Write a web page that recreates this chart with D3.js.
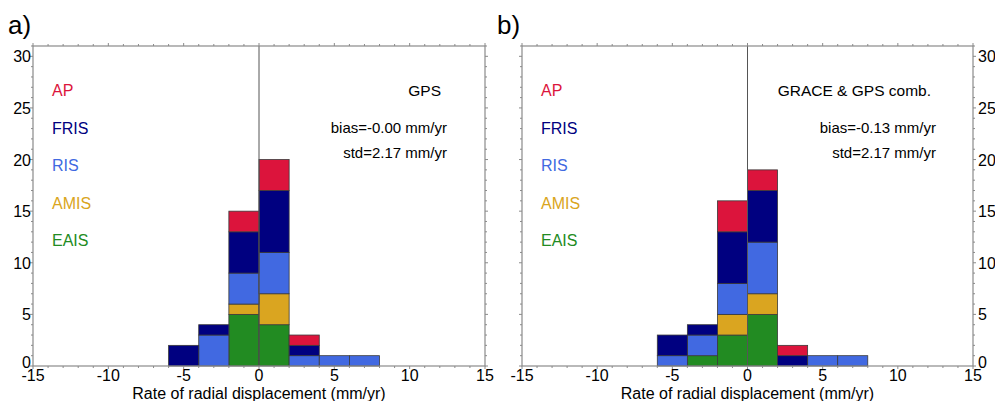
<!DOCTYPE html>
<html>
<head>
<meta charset="utf-8">
<script src="https://cdn.jsdelivr.net/npm/d3@7"></script>
<style>
  body { margin: 0; background: #fff; }
  svg { font-family: 'Liberation Sans', Arial, sans-serif; }
</style>
</head>
<body>
<svg id="chart" width="995" height="401"></svg>
<script>
// bins of width 2 mm/yr
const binEdges = [-6, -4, -2, 0, 2, 4, 6, 8];
const regions = ['EAIS', 'AMIS', 'RIS', 'FRIS', 'AP']; // stacking order, bottom to top
const legendOrder = ['AP', 'FRIS', 'RIS', 'AMIS', 'EAIS'];
const regionColors = {
  AP: '#dc143c',
  FRIS: '#000080',
  RIS: '#4169e1',
  AMIS: '#daa520',
  EAIS: '#228b22'
};

// counts per bin, panel a (GPS)
const gpsEAIS = [0, 0, 5, 4, 0, 0, 0];
const gpsAMIS = [0, 0, 1, 3, 0, 0, 0];
const gpsRIS = [0, 3, 3, 4, 1, 1, 1];
const gpsFRIS = [2, 1, 4, 6, 1, 0, 0];
const gpsAP = [0, 0, 2, 3, 1, 0, 0];

// counts per bin, panel b (GRACE & GPS comb.)
const combEAIS = [0, 1, 3, 5, 0, 0, 0];
const combAMIS = [0, 0, 2, 2, 0, 0, 0];
const combRIS = [1, 2, 3, 5, 0, 1, 1];
const combFRIS = [2, 1, 5, 5, 1, 0, 0];
const combAP = [0, 0, 3, 2, 1, 0, 0];

const xTicks = [-15, -10, -5, 0, 5, 10, 15];
const yTicks = [0, 5, 10, 15, 20, 25, 30];

const panels = [
  {
    label: 'a)', left: 33, right: 485, yLabels: 'left',
    title: 'GPS', bias: 'bias=-0.00 mm/yr', std: 'std=2.17 mm/yr',
    titleX: 441, statX: 447,
    counts: { EAIS: gpsEAIS, AMIS: gpsAMIS, RIS: gpsRIS, FRIS: gpsFRIS, AP: gpsAP }
  },
  {
    label: 'b)', left: 522, right: 973, yLabels: 'right',
    title: 'GRACE & GPS comb.', bias: 'bias=-0.13 mm/yr', std: 'std=2.17 mm/yr',
    titleX: 931, statX: 936,
    counts: { EAIS: combEAIS, AMIS: combAMIS, RIS: combRIS, FRIS: combFRIS, AP: combAP }
  }
];

const plotTop = 46;
const plotBottom = 366;
const svg = d3.select('#chart');
const axisColor = '#8a8a8a';

panels.forEach(p => {
  const x = d3.scaleLinear().domain([-15, 15]).range([p.left, p.right]);
  const y = d3.scaleLinear().domain([0, 31]).range([plotBottom, plotTop]);
  const g = svg.append('g');

  const rows = binEdges.slice(0, -1).map((e, i) => {
    const row = { x0: e, x1: binEdges[i + 1] };
    regions.forEach(r => { row[r] = p.counts[r][i]; });
    return row;
  });
  const series = d3.stack().keys(regions)(rows);

  g.selectAll('.layer')
    .data(series)
    .join('g')
    .attr('fill', d => regionColors[d.key])
    .selectAll('rect')
    .data(d => d.filter(v => v[1] > v[0]))
    .join('rect')
    .attr('x', d => x(d.data.x0))
    .attr('width', d => x(d.data.x1) - x(d.data.x0))
    .attr('y', d => y(d[1]))
    .attr('height', d => y(d[0]) - y(d[1]))
    .attr('stroke', '#3a3a3a')
    .attr('stroke-width', 0.8);

  // zero line
  g.append('line')
    .attr('x1', x(0)).attr('x2', x(0))
    .attr('y1', y(0)).attr('y2', plotTop)
    .attr('stroke', '#555').attr('stroke-width', 1);

  // frame
  g.append('rect')
    .attr('x', p.left).attr('y', plotTop)
    .attr('width', p.right - p.left).attr('height', plotBottom - plotTop)
    .attr('fill', 'none').attr('stroke', axisColor).attr('stroke-width', 1.2);

  // minor + major ticks, outward
  const xAll = d3.range(-15, 16, 1);
  const yAll = d3.range(0, 32, 1);
  const tk = g.append('g').attr('stroke', axisColor).attr('stroke-width', 1);
  xAll.forEach(v => {
    const len = v % 5 === 0 ? 3 : 2;
    tk.append('line').attr('x1', x(v)).attr('x2', x(v)).attr('y1', plotBottom).attr('y2', plotBottom + len);
    tk.append('line').attr('x1', x(v)).attr('x2', x(v)).attr('y1', plotTop).attr('y2', plotTop - len);
  });
  yAll.forEach(v => {
    const len = v % 5 === 0 ? 3 : 2;
    tk.append('line').attr('x1', p.left).attr('x2', p.left - len).attr('y1', y(v)).attr('y2', y(v));
    tk.append('line').attr('x1', p.right).attr('x2', p.right + len).attr('y1', y(v)).attr('y2', y(v));
  });

  // x tick labels
  g.selectAll('.xl')
    .data(xTicks)
    .join('text')
    .attr('x', d => x(d))
    .attr('y', plotBottom + 15)
    .attr('text-anchor', 'middle')
    .attr('font-size', 16)
    .text(d => d);

  // y tick labels (the 0 sits a little higher, as in the original)
  g.selectAll('.yl')
    .data(yTicks)
    .join('text')
    .attr('x', p.yLabels === 'left' ? p.left - 2 : p.right + 5)
    .attr('y', d => y(d) + (d === 0 ? 2 : 6))
    .attr('text-anchor', p.yLabels === 'left' ? 'end' : 'start')
    .attr('font-size', 16)
    .text(d => d);

  // x axis title
  g.append('text')
    .attr('x', (p.left + p.right) / 2)
    .attr('y', 399)
    .attr('text-anchor', 'middle')
    .attr('font-size', 16)
    .text('Rate of radial displacement (mm/yr)');

  // panel label
  g.append('text')
    .attr('x', p.left - 25)
    .attr('y', 34)
    .attr('font-size', 26)
    .text(p.label);

  // legend
  g.selectAll('.lg')
    .data(legendOrder)
    .join('text')
    .attr('x', p.left + 19)
    .attr('y', (d, i) => 96 + i * 37.5)
    .attr('font-size', 16)
    .attr('fill', d => regionColors[d])
    .text(d => d);

  // stats text
  g.append('text').attr('x', p.titleX).attr('y', 96)
    .attr('text-anchor', 'end').attr('font-size', 15.5).text(p.title);
  g.append('text').attr('x', p.statX).attr('y', 133)
    .attr('text-anchor', 'end').attr('font-size', 15).text(p.bias);
  g.append('text').attr('x', p.statX).attr('y', 158)
    .attr('text-anchor', 'end').attr('font-size', 15).text(p.std);
});
</script>
</body>
</html>
